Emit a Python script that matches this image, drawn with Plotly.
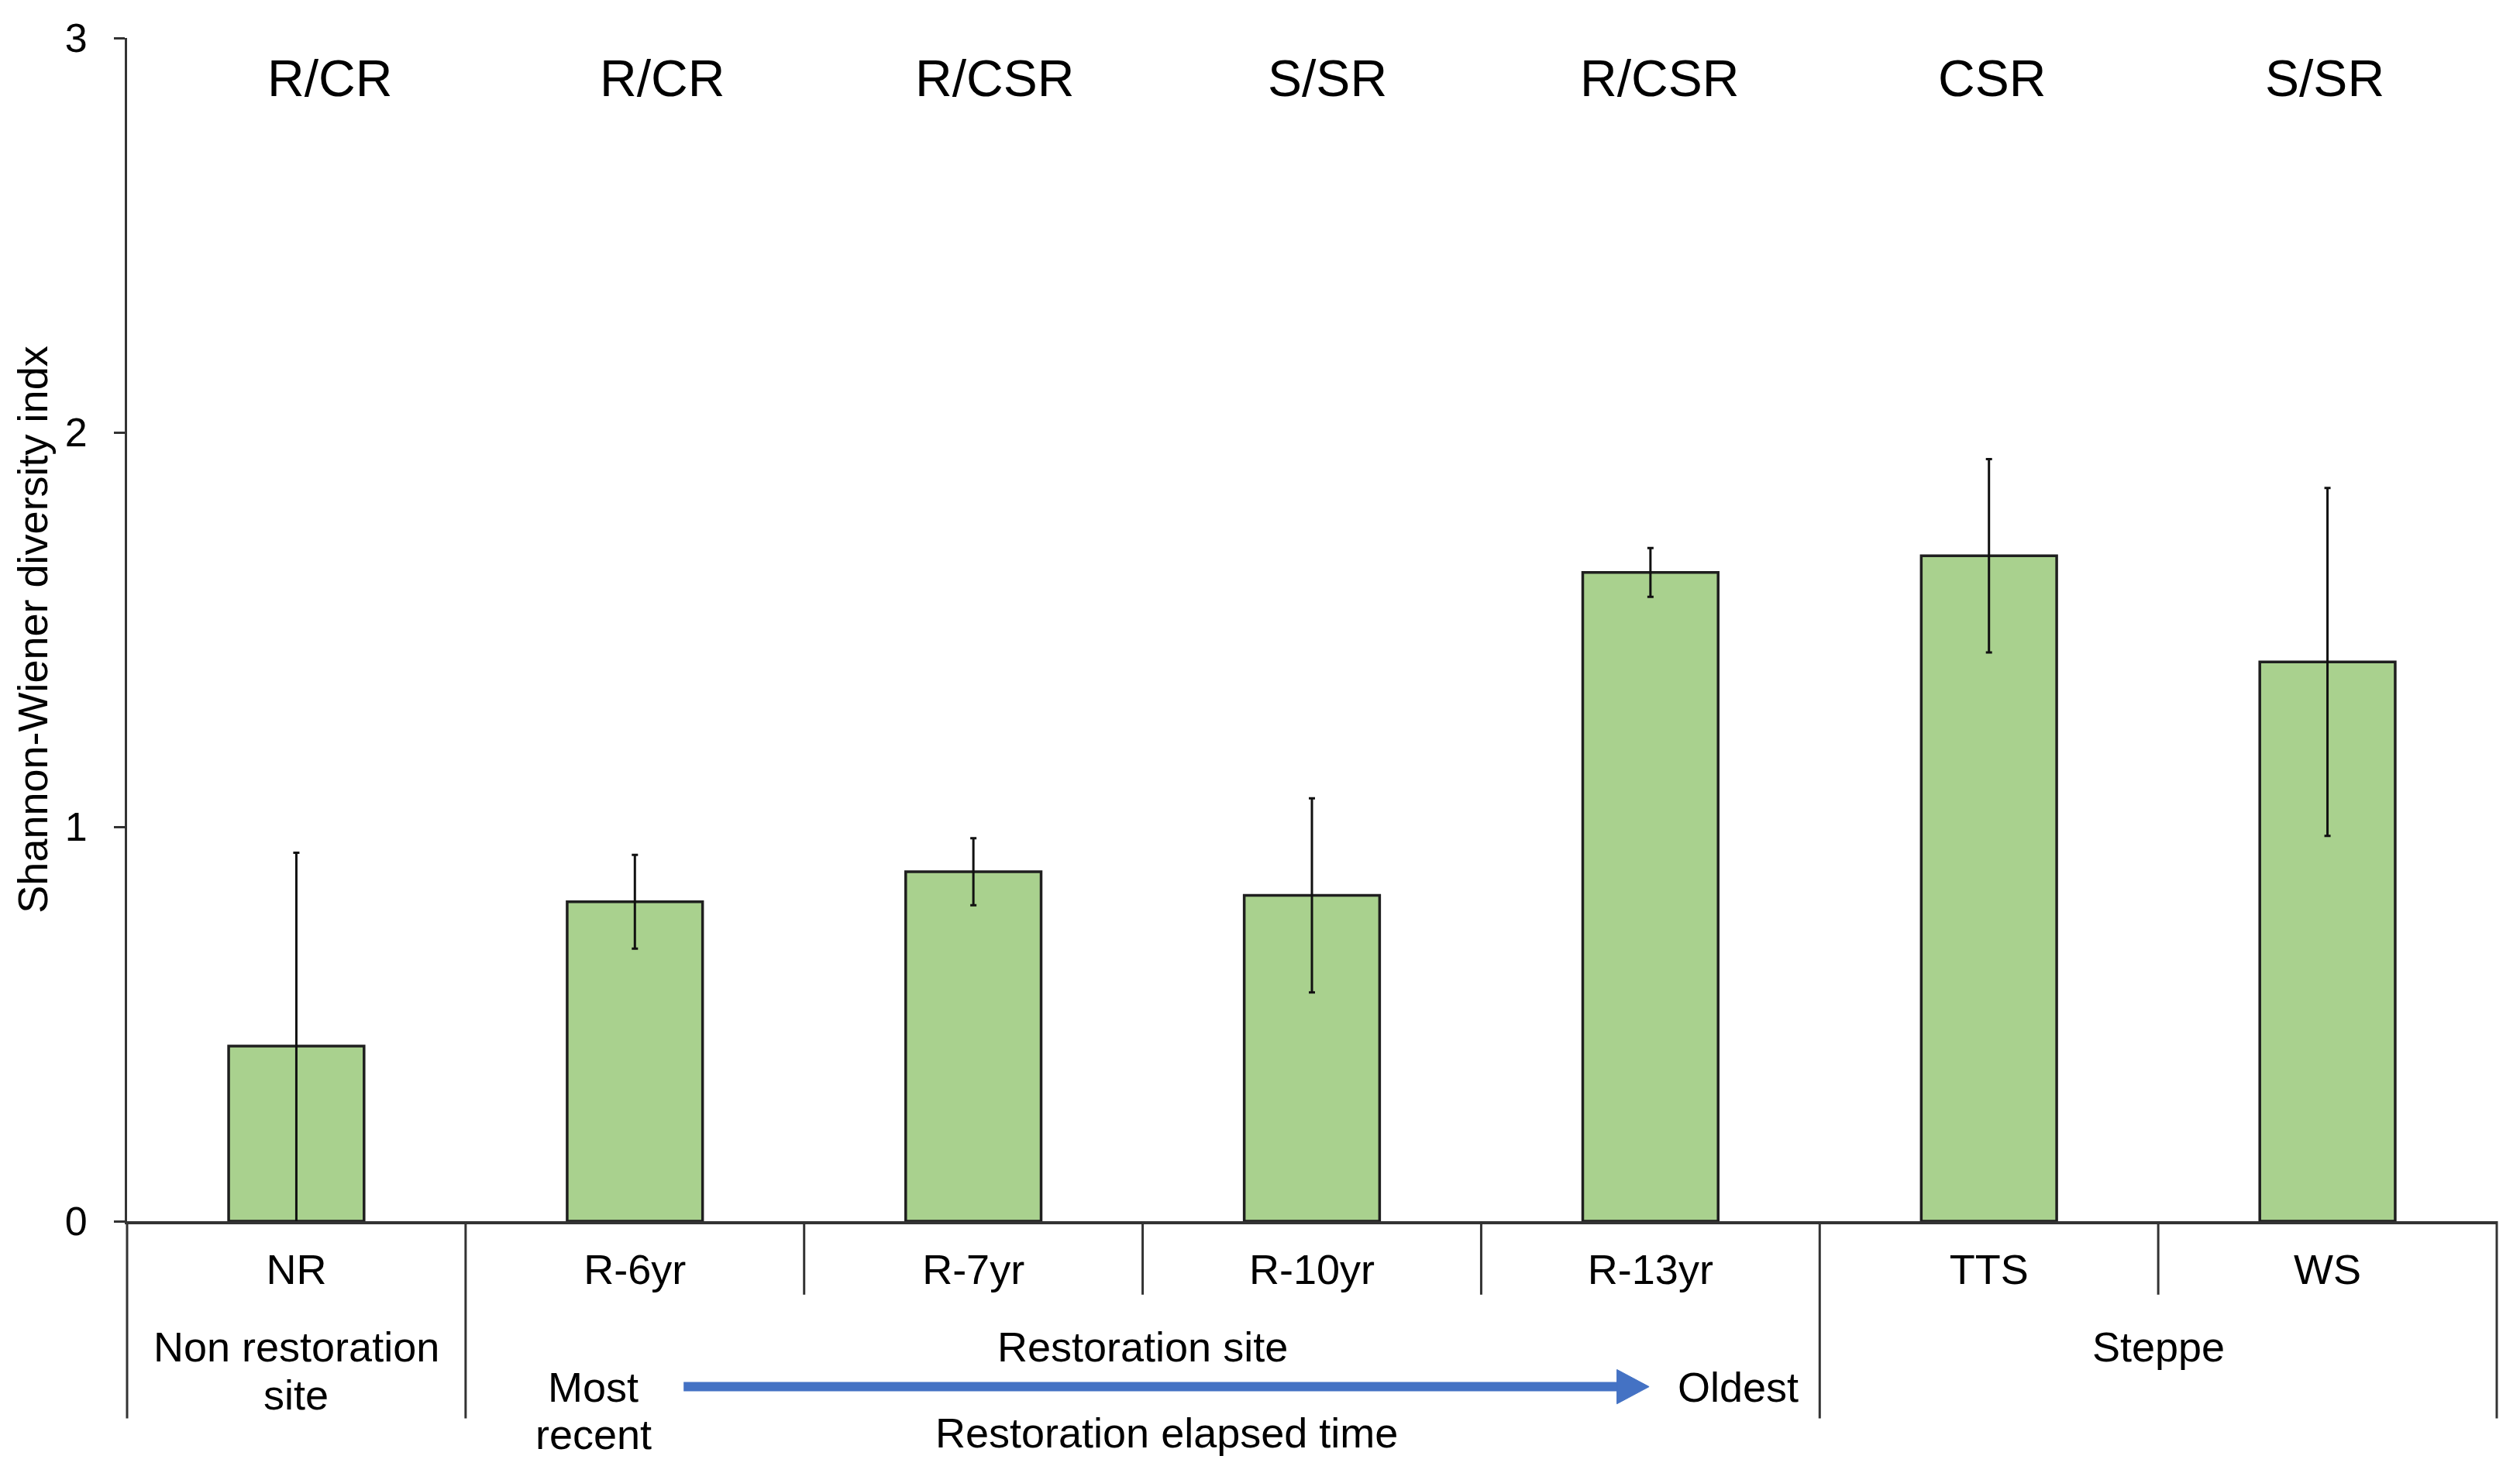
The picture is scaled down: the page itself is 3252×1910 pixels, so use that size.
import plotly.graph_objects as go

# ---------------- data ----------------
categories = ["NR", "R-6yr", "R-7yr", "R-10yr", "R-13yr", "TTS", "WS"]
shannon = [0.444, 0.810, 0.886, 0.826, 1.645, 1.687, 1.418]
shannon_err = [0.49, 0.119, 0.085, 0.246, 0.062, 0.245, 0.441]
strategy = ["R/CR", "R/CR", "R/CSR", "S/SR", "R/CSR", "CSR", "S/SR"]
group_names = ["Non restoration<br>site", "Restoration site", "Steppe"]
group_spans = [(0, 0), (1, 4), (5, 6)]
y_ticks = [0, 1, 2, 3]
y_title = "Shannon-Wiener diversity indx"
arrow_left = "Most<br>recent"
arrow_right = "Oldest"
arrow_caption = "Restoration elapsed time"

FONT = "Liberation Sans, Arial, sans-serif"
AXIS_COLOR = "#333333"
OFF = 8                      # default page body margin
W, H = 3252 - 2 * OFF, 1910 - 2 * OFF
SCR_LEFT, SCR_RIGHT, SCR_TOP, SCR_ZERO = 164, 3222, 46, 1576   # screen pixels
L = SCR_LEFT - OFF
R = W - (SCR_RIGHT - OFF)
T = SCR_TOP - OFF
B = H - (SCR_ZERO - OFF)
plot_h = SCR_ZERO - SCR_TOP


def py(pix):
    """screen pixel row -> paper y"""
    return (SCR_ZERO - pix) / plot_h


LINE_GAP = 62
x_idx = list(range(len(categories)))
n = len(categories)

fig = go.Figure()
fig.add_trace(go.Bar(
    x=x_idx, y=shannon, width=0.4,
    marker=dict(color="#A9D18E", line=dict(color="#1f1f1f", width=3.5)),
    error_y=dict(type="data", array=shannon_err, visible=True,
                 color="#111111", thickness=3, width=4),
    showlegend=False,
))

shapes = []
FULL_BOTTOM, SHORT_BOTTOM = 1831, 1671
# outer frame lines below zero (left = y-axis extension, right end)
for xp in (0, 1):
    shapes.append(dict(type="line", xref="paper", yref="paper", x0=xp, x1=xp,
                       y0=0, y1=py(FULL_BOTTOM), line=dict(color=AXIS_COLOR, width=3)))
# inner category dividers
group_bounds = {b + 0.5 for a, b in group_spans}
for i in range(n - 1):
    xb = i + 0.5
    full = xb in group_bounds
    shapes.append(dict(type="line", xref="x", yref="paper", x0=xb, x1=xb,
                       y0=0, y1=py(FULL_BOTTOM) if full else py(SHORT_BOTTOM),
                       line=dict(color=AXIS_COLOR, width=3)))

# elapsed-time arrow
ay = py(1790)
ax0, ax1 = 1.144, 3.996
head_len = 0.095
head_half = 0.0145
shapes.append(dict(type="line", xref="x", yref="paper", x0=ax0, x1=ax1 - head_len + 0.01,
                   y0=ay, y1=ay, line=dict(color="#4472C4", width=12)))
shapes.append(dict(type="path", xref="x", yref="paper",
                   path=f"M {ax1 - head_len},{ay + head_half} L {ax1},{ay} L {ax1 - head_len},{ay - head_half} Z",
                   fillcolor="#4472C4", line=dict(color="#4472C4", width=1)))

annotations = []


def add_text(x, y_first, text, size=54):
    for k, line in enumerate(text.split("<br>")):
        annotations.append(dict(x=x, y=py(y_first + k * LINE_GAP), xref="x", yref="paper",
                                text=line, showarrow=False,
                                font=dict(size=size, color="#000", family=FONT),
                                xanchor="center", yanchor="middle"))


for i, s in enumerate(strategy):
    add_text(0.099 + i * 0.982, 98, s, size=66)
for name, (a, b) in zip(group_names, group_spans):
    add_text((a + b) / 2, 1738, name)
add_text(0.878, 1790, arrow_left)
add_text(4.258, 1790, arrow_right)
add_text(2.570, 1850, arrow_caption)

fig.update_layout(
    width=W, height=H,
    margin=dict(l=L, r=R, t=T, b=B),
    paper_bgcolor="white", plot_bgcolor="white",
    font=dict(family=FONT, color="#000"),
    shapes=shapes, annotations=annotations,
)
fig.update_xaxes(
    range=[-0.5, n - 0.5], tickvals=x_idx, ticktext=categories,
    showline=True, linecolor=AXIS_COLOR, linewidth=4, showgrid=False, zeroline=False,
    ticks="", tickfont=dict(size=54, color="#000", family=FONT), ticklabelstandoff=12,
)
fig.update_yaxes(
    range=[0, 3], tickvals=y_ticks, ticktext=[str(t) for t in y_ticks],
    showline=True, linecolor=AXIS_COLOR, linewidth=3, showgrid=False, zeroline=False,
    ticks="outside", ticklen=14, tickwidth=3, tickcolor=AXIS_COLOR,
    tickfont=dict(size=52, color="#000", family=FONT), ticklabelstandoff=24,
    title=dict(text=y_title, font=dict(size=54, color="#000", family=FONT), standoff=5),
)

fig.write_html("out.html")
